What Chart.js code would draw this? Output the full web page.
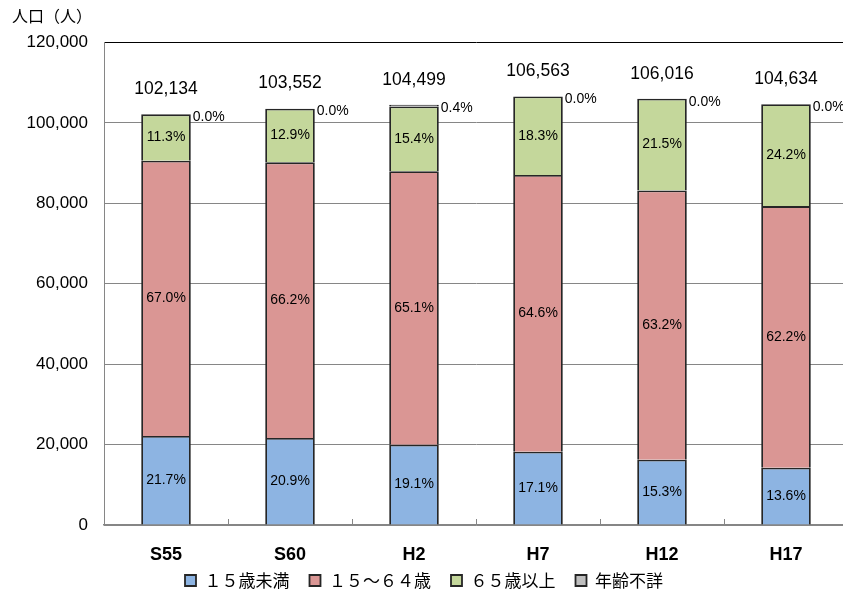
<!DOCTYPE html>
<html lang="ja">
<head>
<meta charset="utf-8">
<title>年齢3区分別人口の推移</title>
<script src="https://cdn.jsdelivr.net/npm/chart.js@4/dist/chart.umd.min.js"></script>
<style>
  html, body { margin: 0; padding: 0; background: #fff; overflow: hidden; }
  #wrap { width: 850px; height: 604px; }
</style>
</head>
<body>
<div id="wrap"><canvas id="chart" width="850" height="604"></canvas></div>
<script>
// 調査年（国勢調査）
const years = ['S55', 'S60', 'H2', 'H7', 'H12', 'H17'];
// 総人口（人）
const totals = [102134, 103552, 104499, 106563, 106016, 104634];
// 年齢区分別の構成比（%）
const shareUnder15 = [21.7, 20.9, 19.1, 17.1, 15.3, 13.6];
const share15to64 = [67.0, 66.2, 65.1, 64.6, 63.2, 62.2];
const share65plus = [11.3, 12.9, 15.4, 18.3, 21.5, 24.2];
const shareUnknown = [0.0, 0.0, 0.4, 0.0, 0.0, 0.0];
// 縦軸の目盛
const yTicks = [0, 20000, 40000, 60000, 80000, 100000, 120000];

const seriesNames = ['１５歳未満', '１５～６４歳', '６５歳以上', '年齢不詳'];
const seriesShares = [shareUnder15, share15to64, share65plus, shareUnknown];
const seriesColors = ['#8DB4E2', '#DA9694', '#C4D79B', '#BFBFBF'];

// 構成比と総人口から各区分の人口を求める
const toPeople = shares => shares.map((s, i) => totals[i] * s / 100);

const numFont = '"Liberation Sans", Arial, sans-serif';
const jpFont = '"Noto Sans CJK JP", "Noto Sans", sans-serif';

const labelPlugin = {
  id: 'segmentLabels',
  afterDatasetsDraw(chart) {
    const ctx = chart.ctx;
    ctx.save();
    ctx.fillStyle = '#000';
    // 各区分の構成比（棒の中）
    ctx.font = '14px ' + numFont;
    ctx.textAlign = 'center';
    ctx.textBaseline = 'middle';
    for (let d = 0; d < 3; d++) {
      chart.getDatasetMeta(d).data.forEach((el, i) => {
        ctx.fillText(seriesShares[d][i].toFixed(1) + '%', el.x, (el.y + el.base) / 2);
      });
    }
    const topMeta = chart.getDatasetMeta(3);
    // 年齢不詳の構成比（棒の右上）
    ctx.font = '14px ' + numFont;
    ctx.textAlign = 'left';
    topMeta.data.forEach((el, i) => {
      ctx.fillText(shareUnknown[i].toFixed(1) + '%', el.x + el.width / 2 + 2, el.y + 3);
    });
    // 総人口（棒の上）
    ctx.font = '17.5px ' + numFont;
    ctx.textAlign = 'center';
    topMeta.data.forEach((el, i) => {
      ctx.fillText(totals[i].toLocaleString('en-US'), el.x, el.y - 25);
    });
    ctx.restore();
  }
};

// 横軸の区切り目盛（内向き）・調査年ラベル・縦軸の単位
const framePlugin = {
  id: 'frameExtras',
  afterDraw(chart) {
    const ctx = chart.ctx;
    const x = chart.scales.x;
    const area = chart.chartArea;
    ctx.save();
    ctx.strokeStyle = '#868686';
    ctx.lineWidth = 1;
    const n = years.length;
    for (let i = 1; i < n; i++) {
      const px = Math.round((x.getPixelForValue(i - 1) + x.getPixelForValue(i)) / 2) + 0.5;
      ctx.beginPath();
      ctx.moveTo(px, area.bottom);
      ctx.lineTo(px, area.bottom - 6);
      ctx.stroke();
    }
    ctx.fillStyle = '#000';
    ctx.font = 'bold 18px ' + numFont;
    ctx.textAlign = 'center';
    ctx.textBaseline = 'middle';
    years.forEach((label, i) => {
      ctx.fillText(label, x.getPixelForValue(i), area.bottom + 30);
    });
    ctx.font = '16px ' + jpFont;
    ctx.textAlign = 'left';
    ctx.fillText('人口（人）', 12, 16);
    ctx.restore();
  }
};

new Chart(document.getElementById('chart'), {
  type: 'bar',
  data: {
    labels: years,
    datasets: seriesNames.map((name, d) => ({
      label: name,
      data: toPeople(seriesShares[d]),
      backgroundColor: seriesColors[d],
      borderColor: '#262626',
      borderWidth: 1.8,
      borderSkipped: 'start',
      barPercentage: 0.4,
      categoryPercentage: 1.0
    }))
  },
  options: {
    responsive: false,
    animation: false,
    layout: { padding: { top: 42.5, left: 0, right: 2, bottom: 5 } },
    plugins: {
      tooltip: { enabled: false },
      legend: {
        position: 'bottom',
        labels: {
          boxWidth: 11,
          boxHeight: 11,
          padding: 20,
          color: '#000',
          font: { family: jpFont, size: 17 }
        }
      }
    },
    scales: {
      x: {
        stacked: true,
        grid: { display: false },
        border: { display: true, color: '#868686', width: 1.5 },
        ticks: { display: false },
        afterFit(scale) { scale.height = 27; }
      },
      y: {
        stacked: true,
        min: 0,
        max: 120000,
        afterBuildTicks(scale) { scale.ticks = yTicks.map(v => ({ value: v })); },
        grid: {
          drawTicks: false,
          color: c => (c.tick && c.tick.value === 120000 ? '#000000' : '#868686')
        },
        border: { display: true, color: '#868686', width: 1 },
        ticks: {
          color: '#000',
          padding: 16,
          font: { family: numFont, size: 17 },
          callback: v => v.toLocaleString('en-US')
        },
        afterFit(scale) { scale.width = 104; }
      }
    }
  },
  plugins: [labelPlugin, framePlugin]
});
</script>
</body>
</html>
